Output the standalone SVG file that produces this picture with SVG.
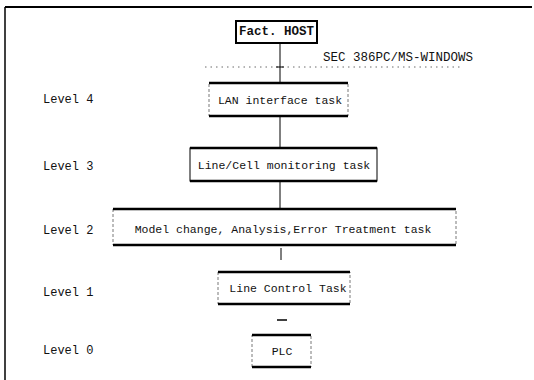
<svg xmlns="http://www.w3.org/2000/svg" width="534" height="380" viewBox="0 0 534 380">
<style>
.lvl{font-family:"Liberation Mono","DejaVu Sans Mono",monospace;font-size:12px;fill:#111}
.t{font-family:"Liberation Mono","DejaVu Sans Mono",monospace;font-size:11.5px;fill:#111;text-anchor:middle;dominant-baseline:central}
.side{stroke:#555;stroke-width:0.8;stroke-dasharray:3 2;fill:none}
.edge{stroke:#000;stroke-width:2.5}
.conn{stroke:#000;stroke-width:1;fill:none}
</style>
<rect width="534" height="380" fill="#fff"/>
<g id="frame">
<line x1="5" y1="7" x2="532" y2="7" stroke="#000" stroke-width="1.8"/>
<line x1="5" y1="7" x2="5" y2="380" stroke="#000" stroke-width="1.5"/>
<line x1="205" y1="67" x2="460" y2="67" stroke="#444" stroke-width="0.8" stroke-dasharray="1.5 4"/>
<text class="lvl" x="323" y="61" style="font-size:12.5px">SEC 386PC/MS-WINDOWS</text>
</g>
<g id="levels">
<text class="lvl" x="43" y="103">Level 4</text>
<text class="lvl" x="43" y="170">Level 3</text>
<text class="lvl" x="43" y="234">Level 2</text>
<text class="lvl" x="43" y="296">Level 1</text>
<text class="lvl" x="43" y="354">Level 0</text>
</g>
<g id="connectors">
<line class="conn" x1="280" y1="43" x2="280" y2="83"/>
<line class="conn" x1="276" y1="67" x2="284" y2="67"/>
<line class="conn" x1="280" y1="116" x2="280" y2="148"/>
<line class="conn" x1="280" y1="181" x2="280" y2="209"/>
<line class="conn" x1="281" y1="248" x2="281" y2="260"/>
<line x1="277" y1="320" x2="287" y2="320" stroke="#000" stroke-width="1.5"/>
</g>
<g id="host">
<rect x="236" y="21" width="81" height="22" fill="#fff" stroke="#000" stroke-width="2"/>
<text class="t" x="276.5" y="32" style="font-size:12.5px;font-weight:bold">Fact. HOST</text>
</g>
<g id="lan">
<rect class="side" x="209" y="83" width="139" height="33"/>
<line class="edge" x1="209" y1="83" x2="348" y2="83"/>
<line class="edge" x1="209" y1="116" x2="348" y2="116"/>
<text class="t" x="280" y="100">LAN interface task</text>
</g>
<g id="linecell">
<rect x="190" y="148" width="187" height="33" fill="none" stroke="#000" stroke-width="1"/>
<line class="edge" x1="190" y1="148" x2="377" y2="148"/>
<line class="edge" x1="190" y1="181" x2="377" y2="181"/>
<text class="t" x="284" y="165">Line/Cell monitoring task</text>
</g>
<g id="model">
<rect class="side" x="113" y="209" width="343" height="36"/>
<line class="edge" x1="113" y1="209" x2="456" y2="209"/>
<line class="edge" x1="113" y1="245" x2="456" y2="245"/>
<text class="t" x="283" y="229">Model change, Analysis,Error Treatment  task</text>
</g>
<g id="linecontrol">
<rect class="side" x="218" y="272" width="132" height="32"/>
<line class="edge" x1="218" y1="272" x2="350" y2="272"/>
<line class="edge" x1="218" y1="304" x2="350" y2="304"/>
<text class="t" x="288" y="288">Line Control Task</text>
</g>
<g id="plc">
<rect class="side" x="252" y="335" width="59" height="32"/>
<line class="edge" x1="252" y1="335" x2="311" y2="335"/>
<line class="edge" x1="252" y1="367" x2="311" y2="367"/>
<text class="t" x="282" y="351">PLC</text>
</g>
</svg>
